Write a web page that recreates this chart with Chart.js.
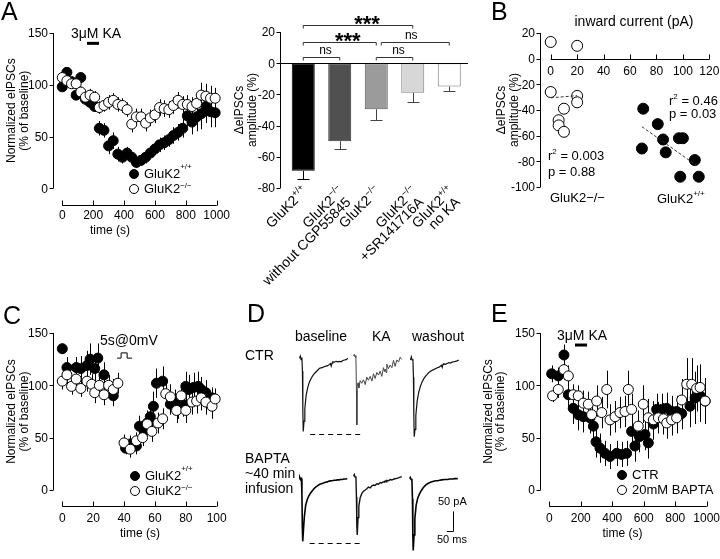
<!DOCTYPE html>
<html>
<head>
<meta charset="utf-8">
<script src="https://cdn.jsdelivr.net/npm/chart.js@4.4.1/dist/chart.umd.min.js"></script>
<style>
html, body { margin: 0; padding: 0; background: #fff; }
#fig { position: relative; width: 720px; height: 559px; overflow: hidden; font-family: "Liberation Sans", Arial, sans-serif; color: #000; }
#fig canvas { position: absolute; left: 0; top: 0; }
.t { position: absolute; white-space: nowrap; line-height: 1; }
.t sup { font-size: 8px; position: relative; vertical-align: baseline; line-height: 0; }
.dot { position: absolute; width: 10px; height: 10px; border-radius: 50%; box-sizing: border-box; border: 1px solid #000; }
</style>
</head>
<body>
<div id="fig"></div>
<script>
// ---------- A: KA time course (s, % of baseline) ----------
var tA = [0,30,60,90,120,150,180,210,240,270,300,330,360,390,420,450,480,510,540,570,600,630,660,690,720,750,780,810,840,870,900,930,960,990];
var kaWt = [98,112,103,90,107,86,83,79,58,56,41,46,33,30,34,30,25,27,30,34,38,42,44,47,51,54,58,70,64,69,72,79,74,73];
var kaWtErr = [4,4,5,4,4,5,5,5,7,7,8,8,7,6,6,5,5,5,6,6,6,7,7,7,8,8,9,10,12,14,15,16,15,14];
var kaKo = [107,104,101,101,93,88,90,88,78,80,83,85,81,80,76,62,69,69,63,68,71,78,77,76,80,85,81,81,79,82,90,89,87,87];
var kaKoErr = [5,5,5,5,5,5,6,6,6,6,7,7,7,7,7,8,8,8,8,8,8,8,8,8,8,8,8,9,9,10,12,12,12,10];

// ---------- A: bar summary ----------
var barCats = [['GluK2+/+'], ['GluK2−/−', 'without CGP55845'], ['GluK2−/−'], ['GluK2−/−', '+SR141716A'], ['GluK2+/+', 'no KA']];
var barMean = [-69, -50, -29.5, -19, -15];
var barErr = [5, 5, 7, 6, 3];
var barFill = ['#000000', '#505050', '#9b9b9b', '#d7d7d7', '#ffffff'];
var barLine = ['#000000', '#303030', '#555555', '#808080', '#777777'];

// ---------- B: inward current vs change in eIPSC ----------
var bKoX = [0, 20, 0, 20, 20, 10, 6, 6, 10];
var bKoY = [13, 10, -26, -29, -34, -39, -48, -52, -57];
var bWtX = [70, 81, 85, 69, 87, 97, 100, 109, 98, 112];
var bWtY = [-39, -51, -63, -70, -73, -62, -62, -79, -92, -92];
var bKoFit = [{x: 0, y: -30.5}, {x: 20, y: -28.8}];
var bWtFit = [{x: 69, y: -53}, {x: 110, y: -83}];

// ---------- C: depolarisation time course ----------
var tCwt = [0,3,9,12,16,18,21,23,27,33,41,44,48,50,53,55,57,59,61,65,70,73,75,78,80,82,85,88,90,93,97];
var cWt = [135,117,117,116,119,125,116,126,110,90,40,44,42,61,56,64,70,80,102,104,82,84,80,82,99,96,98,99,96,93,88];
var cWtErr = [5,10,10,12,14,15,12,14,12,10,6,8,8,10,10,12,12,14,14,14,10,12,12,12,14,14,14,14,12,12,10];
var tCko = [0,3,6,9,12,16,19,21,24,27,30,33,36,40,44,48,52,55,58,62,65,67,70,74,77,80,84,87,90,93,97,99];
var cKo = [104,110,99,106,97,104,101,93,100,91,100,96,102,45,39,47,50,63,56,64,68,92,89,76,90,76,84,85,88,84,80,87];
var cKoErr = [8,8,8,8,8,10,10,10,10,10,10,10,10,8,8,8,8,10,10,10,10,12,12,12,12,12,12,12,12,12,12,10];

// ---------- D: example eIPSC traces (ms, pA) ----------
var traceT = [0,6,12,18,22,25,28,34,40,50,62,75,88,100,112,125,138,150,162,175,188,200,212,225,232,238,244,250,262,275,288,300,312,325,338,350,362];
var ctrBase = [0,5,-3,2,-30,-120,-169,-145,-116,-85,-67,-54,-46,-40,-35,-31,-27,-23,-22,-21,-19,-18,-17,-14,-12,-18,-11,-8,-9,-7,-8,-7,-8,-5,-4,-3,0];
var ctrKA = [0,4,-3,1,-80,-159,-70,-62,-74,-57,-63,-55,-66,-49,-56,-47,-58,-41,-52,-38,-44,-35,-47,-27,-36,-30,-38,-19,-29,-21,-27,-10,-24,-9,-14,-3,-8];
var ctrWash = [0,7,0,2,-40,-130,-177,-160,-128,-95,-74,-60,-50,-43,-38,-33,-29,-26,-24,-22,-20,-18,-17,-14,-12,-17,-10,-9,-10,-8,-6,-7,-5,-4,-3,-2,0];
var bapBase = [0,3,-2,0,-40,-120,-156,-125,-95,-66,-52,-42,-35,-30,-25,-21,-18,-15,-13,-12,-10,-9,-8,-6,-6,-5,-5,-5,-4,-4,-3,-3,-2,-2,-1,-1,0];
var bapKA = [0,4,-2,0,-50,-120,-142,-100,-72,-52,-42,-36,-33,-30,-26,-28,-23,-21,-22,-18,-19,-15,-16,-13,-14,-11,-13,-10,-11,-8,-9,-7,-6,-5,-4,-2,-1];
var bapWash = [0,3,-2,0,-50,-140,-179,-140,-100,-66,-48,-38,-30,-24,-19,-15,-12,-10,-8,-7,-6,-5,-5,-4,-4,-3,-3,-3,-2,-2,-2,-1,-1,-1,0,0,0];

// ---------- E: BAPTA time course ----------
var tEctr = [15,57,93,121,152,184,216,258,280,297,322,354,386,428,459,491,523,544,572,608,629,661,682,714,746,778,810,841,894,926,958,990];
var eCtr = [111,109,129,91,78,72,70,69,61,46,40,35,32,35,34,35,56,42,51,53,45,63,77,77,78,75,75,73,80,88,90,85];
var eCtrErr = [8,8,10,12,15,15,15,15,15,15,14,12,12,12,12,12,15,15,15,15,15,15,15,15,15,15,15,15,20,25,25,22];
var tEbap = [21,57,93,121,152,184,216,248,269,301,333,365,386,418,449,481,502,523,565,597,629,661,693,725,746,777,809,841,873,905,936,958,990];
var eBap = [90,96,115,109,91,90,83,82,72,85,74,96,67,70,74,75,96,77,61,82,69,67,69,68,64,67,69,86,101,101,97,98,85];
var eBapErr = [6,8,10,10,10,10,12,12,12,15,15,18,15,15,15,15,18,15,15,18,18,18,15,15,15,15,15,20,25,25,22,22,20];

// ---------- tick labels ----------
var normTicks = [0, 50, 100, 150];
var timeTicks = [0, 200, 400, 600, 800, 1000];
var secTicks = [0, 20, 40, 60, 80, 100];
var barTicks = [-80, -60, -40, -20, 0, 20];
var bXTicks = [0, 20, 40, 60, 80, 100, 120];
var bYTicks = [-100, -80, -60, -40, -20, 0, 20];

var kaOnA = [160, 238];
var kaOnE = [163, 240];
var pulseT = [35.5, 38.1, 42, 45.2];

var SANS = '"Liberation Sans", Arial, sans-serif';
function font(px, bold) { return (bold ? 'bold ' : '') + px + 'px ' + SANS; }

var fig = document.getElementById('fig');

function layer() {
  var c = document.createElement('canvas');
  c.width = 720; c.height = 559;
  fig.appendChild(c);
  return c;
}

// chart area in page pixels
function pad(l, t, r, b) { return {left: l, top: t, right: 720 - r, bottom: 559 - b}; }

function opts(area, x, y) {
  return {
    responsive: false, animation: false, devicePixelRatio: 1, events: [],
    layout: {padding: area},
    plugins: {legend: {display: false}, tooltip: {enabled: false}},
    scales: {
      x: Object.assign({type: 'linear', display: false}, x),
      y: Object.assign({type: 'linear', display: false}, y)
    }
  };
}

function pts(xs, ys) { return xs.map(function (x, i) { return {x: x, y: ys[i]}; }); }

// axes drawn from the chart's scales, prism style (split axes)
function frame(f) {
  return {
    id: 'frame',
    beforeDatasetDraw: function (chart, args) {
      var ds = chart.data.datasets[args.index];
      if (!ds.err) return;
      var ctx = chart.ctx, xs = chart.scales.x, ys = chart.scales.y;
      ctx.save();
      ctx.strokeStyle = '#000';
      ctx.lineWidth = 1;
      ctx.beginPath();
      ds.data.forEach(function (p, i) {
        var px = Math.round(xs.getPixelForValue(p.x)) + 0.5;
        ctx.moveTo(px, ys.getPixelForValue(p.y + ds.err[i]));
        ctx.lineTo(px, ys.getPixelForValue(p.y - ds.err[i]));
      });
      ctx.stroke();
      ctx.restore();
    },
    afterDraw: function (chart) {
      var ctx = chart.ctx, ca = chart.chartArea, xs = chart.scales.x, ys = chart.scales.y;
      ctx.save();
      ctx.strokeStyle = '#000';
      ctx.fillStyle = '#000';
      ctx.lineWidth = 1;
      if (f.y) {
        var a = f.y;
        var X = Math.round(ca.left + (a.shift || 0)) + 0.5;
        var p0 = ys.getPixelForValue(a.ticks[0]), p1 = ys.getPixelForValue(a.ticks[a.ticks.length - 1]);
        ctx.beginPath();
        ctx.moveTo(X, p0); ctx.lineTo(X, p1);
        a.ticks.forEach(function (v) {
          var py = Math.round(ys.getPixelForValue(v)) + 0.5;
          ctx.moveTo(X - 4, py); ctx.lineTo(X, py);
        });
        ctx.stroke();
        ctx.font = font(12);
        ctx.textAlign = 'right';
        ctx.textBaseline = 'alphabetic';
        a.ticks.forEach(function (v) { ctx.fillText(String(v), X - 5.5, ys.getPixelForValue(v) + 4.3); });
        var mid = (p0 + p1) / 2;
        ctx.textAlign = 'center';
        a.title.forEach(function (ln) {
          ctx.save();
          ctx.translate(ln[1], mid);
          ctx.rotate(-Math.PI / 2);
          ctx.fillText(ln[0], 0, 0);
          ctx.restore();
        });
      }
      if (f.x) {
        var b = f.x;
        var Y = Math.round(b.at !== undefined ? ys.getPixelForValue(b.at) : ca.bottom) + 0.5;
        var q0 = xs.getPixelForValue(b.ticks[0]), q1 = xs.getPixelForValue(b.ticks[b.ticks.length - 1]);
        ctx.beginPath();
        ctx.moveTo(q0, Y); ctx.lineTo(q1, Y);
        b.ticks.forEach(function (v) {
          var px = Math.round(xs.getPixelForValue(v)) + 0.5;
          ctx.moveTo(px, Y); ctx.lineTo(px, Y - 5);
        });
        ctx.stroke();
        ctx.font = font(12);
        ctx.textAlign = 'center';
        b.ticks.forEach(function (v) { ctx.fillText(String(v), xs.getPixelForValue(v), Y + b.lab); });
        if (b.title) {
          ctx.font = font(b.titleSize || 12);
          ctx.fillText(b.title, b.titleX !== undefined ? b.titleX : (q0 + q1) / 2, Y + b.tit);
        }
      }
      if (f.extra) f.extra(chart, ctx, xs, ys);
      ctx.restore();
    }
  };
}

function kaBar(on, level) {
  return function (chart, ctx, xs, ys) {
    var y = ys.getPixelForValue(level);
    ctx.lineWidth = 3;
    ctx.beginPath();
    ctx.moveTo(xs.getPixelForValue(on[0]), y);
    ctx.lineTo(xs.getPixelForValue(on[1]), y);
    ctx.stroke();
  };
}

function timeCourse(c) {
  new Chart(layer(), {
    type: 'scatter',
    data: {datasets: [
      {data: pts(c.t1, c.v1), err: c.e1, order: 2, pointRadius: 5, pointBackgroundColor: '#000', pointBorderColor: '#000', pointBorderWidth: 1, clip: false},
      {data: pts(c.t2, c.v2), err: c.e2, order: 1, pointRadius: 5, pointBackgroundColor: '#fff', pointBorderColor: '#000', pointBorderWidth: 1, clip: false}
    ]},
    options: opts(c.area, c.x, c.y),
    plugins: [frame(c.frame)]
  });
}

// ---- A (left) ----
timeCourse({
  t1: tA, v1: kaWt, e1: kaWtErr, t2: tA, v2: kaKo, e2: kaKoErr,
  area: pad(53, 33, 217, 205), x: {min: -60, max: 1002}, y: {min: -16.1, max: 150},
  frame: {
    y: {ticks: normTicks, title: [['Normalized eIPSCs', 15], ['(% of baseline)', 27.5]]},
    x: {ticks: timeTicks, lab: 13, title: 'time (s)', tit: 28, titleX: 110},
    extra: kaBar(kaOnA, 140)
  }
});

// ---- C ----
timeCourse({
  t1: tCwt, v1: cWt, e1: cWtErr, t2: tCko, v2: cKo, e2: cKoErr,
  area: pad(53, 333, 217, 506), x: {min: -6.02, max: 100.2}, y: {min: -15.29, max: 150},
  frame: {
    y: {ticks: normTicks, title: [['Normalized eIPSCs', 15], ['(% of baseline)', 27.5]]},
    x: {ticks: secTicks, lab: 15, title: 'time (s)', tit: 30.5, titleX: 140},
    extra: function (chart, ctx, xs, ys) {
      var lo = ys.getPixelForValue(126), hi = ys.getPixelForValue(131);
      ctx.lineWidth = 1;
      ctx.beginPath();
      ctx.moveTo(xs.getPixelForValue(pulseT[0]), lo);
      ctx.lineTo(xs.getPixelForValue(pulseT[1]), lo);
      ctx.lineTo(xs.getPixelForValue(pulseT[1]), hi);
      ctx.lineTo(xs.getPixelForValue(pulseT[2]), hi);
      ctx.lineTo(xs.getPixelForValue(pulseT[2]), lo);
      ctx.lineTo(xs.getPixelForValue(pulseT[3]), lo);
      ctx.stroke();
    }
  }
});

// ---- E ----
timeCourse({
  t1: tEctr, v1: eCtr, e1: eCtrErr, t2: tEbap, v2: eBap, e2: eBapErr,
  area: pad(540, 333, 707, 506), x: {min: -59.1, max: 1001.9}, y: {min: -15.29, max: 150},
  frame: {
    y: {ticks: normTicks, title: [['Normalized eIPSCs', 491.5], ['(% of baseline)', 504]]},
    x: {ticks: timeTicks, lab: 15, title: 'time (s)', tit: 30.5, titleX: 622.5},
    extra: kaBar(kaOnE, 138.5)
  }
});

// ---- A (right): bars ----
var sigs = [
  // from, to, level, text, shift of left end (px), text shift (px)
  [0, 3, 24.5, '***', 0, 9],
  [0, 2, 13.4, '***', 0, 8],
  [2, 4, 13.4, 'ns', 5, -4],
  [0, 1, 3.8, 'ns', 0, 4],
  [2, 3, 3.8, 'ns', 0, 4]
];

function drawRich(ctx, line, x, y) {
  var m = /^GluK2([+−]\/[+−])$/.exec(line);
  var parts = m ? [['GluK2', 14, 0], [m[1], 9, -6]] : [[line, 14, 0]];
  var w = 0;
  parts.forEach(function (p) { ctx.font = font(p[1]); w += ctx.measureText(p[0]).width; });
  var cx = x - w;
  parts.forEach(function (p) {
    ctx.font = font(p[1]);
    ctx.fillText(p[0], cx, y + p[2]);
    cx += ctx.measureText(p[0]).width;
  });
}

var barExtras = {
  id: 'barExtras',
  afterDatasetsDraw: function (chart) {
    var ctx = chart.ctx, ca = chart.chartArea, xs = chart.scales.x, ys = chart.scales.y;
    ctx.save();
    ctx.lineWidth = 1;
    // error bars (one-sided)
    barMean.forEach(function (m, i) {
      var px = Math.round(xs.getPixelForValue(i)) + 0.5;
      var ye = Math.round(ys.getPixelForValue(m - barErr[i])) + 0.5;
      ctx.strokeStyle = i === 0 ? '#000' : '#444';
      ctx.beginPath();
      ctx.moveTo(px, ys.getPixelForValue(m));
      ctx.lineTo(px, ye);
      ctx.moveTo(px - 6, ye);
      ctx.lineTo(px + 6, ye);
      ctx.stroke();
    });
    // zero line
    var y0 = Math.round(ys.getPixelForValue(0)) + 0.5;
    ctx.strokeStyle = '#000';
    ctx.beginPath();
    ctx.moveTo(ca.left - 5, y0);
    ctx.lineTo(ca.right + 0.5, y0);
    ctx.stroke();
    // significance brackets
    ctx.strokeStyle = '#333';
    ctx.fillStyle = '#000';
    ctx.textAlign = 'center';
    sigs.forEach(function (s) {
      var xa = xs.getPixelForValue(s[0]) + s[4], xb = xs.getPixelForValue(s[1]);
      var yy = Math.round(ys.getPixelForValue(s[2])) + 0.5;
      ctx.beginPath();
      ctx.moveTo(xa, yy + 3); ctx.lineTo(xa, yy); ctx.lineTo(xb, yy); ctx.lineTo(xb, yy + 3);
      ctx.stroke();
      var stars = s[3] === '***';
      ctx.font = stars ? font(22, true) : font(12);
      ctx.fillText(s[3], (xa + xb) / 2 + s[5], yy + (stars ? 5.5 : -4));
    });
    // rotated category labels
    ctx.textAlign = 'left';
    barCats.forEach(function (lines, i) {
      ctx.save();
      ctx.translate(xs.getPixelForValue(i) + 5, ca.bottom + 4);
      ctx.rotate(-Math.PI / 4);
      lines.forEach(function (ln, k) { drawRich(ctx, ln, -3 * k, k * 12.5); });
      ctx.restore();
    });
    ctx.restore();
  }
};

new Chart(layer(), {
  type: 'bar',
  data: {
    labels: barCats.map(function (c) { return c.join(' '); }),
    datasets: [{data: barMean, backgroundColor: barFill, borderColor: barLine, borderWidth: 1, borderSkipped: false, barPercentage: 0.63, categoryPercentage: 1}]
  },
  options: opts(pad(285, 32, 467.5, 188), {type: 'category', offset: true}, {min: -80, max: 20}),
  plugins: [frame({y: {shift: -5, ticks: barTicks, title: [['ΔeIPSCs', 243], ['amplitude (%)', 256]]}}), barExtras]
});

// ---- B ----
new Chart(layer(), {
  type: 'scatter',
  data: {datasets: [
    {data: pts(bWtX, bWtY), order: 2, pointRadius: 5.5, pointBackgroundColor: '#000', pointBorderColor: '#000', pointBorderWidth: 1, clip: false},
    {data: pts(bKoX, bKoY), order: 1, pointRadius: 5.5, pointBackgroundColor: '#fff', pointBorderColor: '#000', pointBorderWidth: 1, clip: false},
    {data: bWtFit, order: 0, showLine: true, pointRadius: 0, borderColor: '#333', borderWidth: 1, borderDash: [3, 2]},
    {data: bKoFit, order: 0, showLine: true, pointRadius: 0, borderColor: '#333', borderWidth: 1, borderDash: [3, 2]}
  ]},
  options: opts(pad(540, 33, 710, 187), {min: -8.1, max: 120.5}, {min: -100, max: 20}),
  plugins: [frame({
    y: {ticks: bYTicks, title: [['ΔeIPSCs', 505], ['amplitude (%)', 518]]},
    x: {at: 0, ticks: bXTicks, lab: 15.5, title: 'inward current (pA)', titleSize: 14, tit: -33.5, titleX: 634}
  })]
});

// ---- D: traces ----
function trace(vals, x0, y0, lw, color, extra) {
  new Chart(layer(), {
    type: 'line',
    data: {datasets: [{data: pts(traceT, vals), borderColor: color, borderWidth: lw, pointRadius: 0, tension: 0, fill: false, clip: false}]},
    options: opts(pad(x0, y0 - 20 * 0.433, x0 + 362 * 0.1333, y0 + 200 * 0.433), {min: 0, max: 362}, {min: -200, max: 20}),
    plugins: extra ? [extra] : []
  });
}

function peakLine(vals) {
  return {
    id: 'peak',
    afterDraw: function (chart) {
      var ctx = chart.ctx, xs = chart.scales.x, ys = chart.scales.y;
      var y = Math.round(ys.getPixelForValue(Math.min.apply(null, vals) - 5)) + 0.5;
      ctx.save();
      ctx.strokeStyle = '#000';
      ctx.lineWidth = 1;
      ctx.setLineDash([5, 4]);
      ctx.beginPath();
      ctx.moveTo(xs.getPixelForValue(80), y);
      ctx.lineTo(xs.getPixelForValue(455), y);
      ctx.stroke();
      ctx.restore();
    }
  };
}

var scaleBar = {
  id: 'scaleBar',
  afterDraw: function (chart) {
    var ctx = chart.ctx, xs = chart.scales.x, ys = chart.scales.y;
    var h = ys.getPixelForValue(0) - ys.getPixelForValue(50);
    var w = xs.getPixelForValue(50) - xs.getPixelForValue(0);
    ctx.save();
    ctx.strokeStyle = '#000';
    ctx.lineWidth = 1;
    ctx.beginPath();
    ctx.moveTo(453.5, 531.5 - h);
    ctx.lineTo(453.5, 531.5);
    ctx.lineTo(453.5 - w, 531.5);
    ctx.stroke();
    ctx.restore();
  }
};

trace(ctrBase, 299.5, 358.3, 1.2, '#111', peakLine(ctrBase));
trace(ctrKA, 353.5, 356, 1, '#444');
trace(ctrWash, 410.5, 360, 1.2, '#111');
trace(bapBase, 299, 479.3, 1.6, '#000', peakLine(bapBase));
trace(bapKA, 353.5, 476.7, 1.4, '#111');
trace(bapWash, 409.5, 479.3, 1.6, '#000', scaleBar);

// ---------- text ----------
function txt(html, x, base, size) {
  var d = document.createElement('div');
  d.className = 't';
  d.innerHTML = html;
  d.style.left = x + 'px';
  d.style.top = (base - 0.8465 * size) + 'px';
  d.style.fontSize = size + 'px';
  fig.appendChild(d);
}
function dot(cx, cy, filled) {
  var d = document.createElement('div');
  d.className = 'dot';
  d.style.left = (cx - 5) + 'px';
  d.style.top = (cy - 5) + 'px';
  d.style.background = filled ? '#000' : '#fff';
  fig.appendChild(d);
}

var wt = 'GluK2<sup style="top:-9px">+/+</sup>';
var ko = 'GluK2<sup style="top:-5px">−/−</sup>';
[
  ['A', 1, 20, 25], ['B', 491, 20, 25], ['C', 3, 324, 25], ['D', 247, 322, 25], ['E', 491, 322, 25],
  ['3μM KA', 71, 38, 14], [wt, 144, 178.5, 13], [ko, 144, 193, 13],
  ['r<sup style="top:-6px">2</sup> = 0.46', 669, 105, 13], ['p = 0.03', 669, 118, 13],
  ['r<sup style="top:-6px">2</sup> = 0.003', 548, 160.5, 13], ['p = 0.88', 548, 176.5, 13],
  ['GluK2−/−', 550, 202, 13], ['GluK2<sup style="top:-7px">+/+</sup>', 657, 203.5, 13],
  ['5s@0mV', 100, 345, 14], [wt, 145, 480, 13], [ko, 145, 495, 13],
  ['baseline', 295, 341, 14], ['KA', 372, 341, 14], ['washout', 412, 341, 14],
  ['CTR', 245, 360, 14], ['BAPTA', 245, 463, 14], ['~40 min', 245, 478, 14], ['infusion', 245, 493, 14],
  ['50 pA', 438, 505, 11], ['50 ms', 437, 543, 11],
  ['3μM KA', 557, 340, 14], ['CTR', 632, 479, 13], ['20mM BAPTA', 632, 494, 13]
].forEach(function (n) { txt(n[0], n[1], n[2], n[3]); });

[[134, 174, 1], [134, 188.5, 0], [135, 476, 1], [135, 490.7, 0], [621.7, 475, 1], [621.7, 490, 0]]
  .forEach(function (d) { dot(d[0], d[1], d[2]); });
</script>
</body>
</html>
